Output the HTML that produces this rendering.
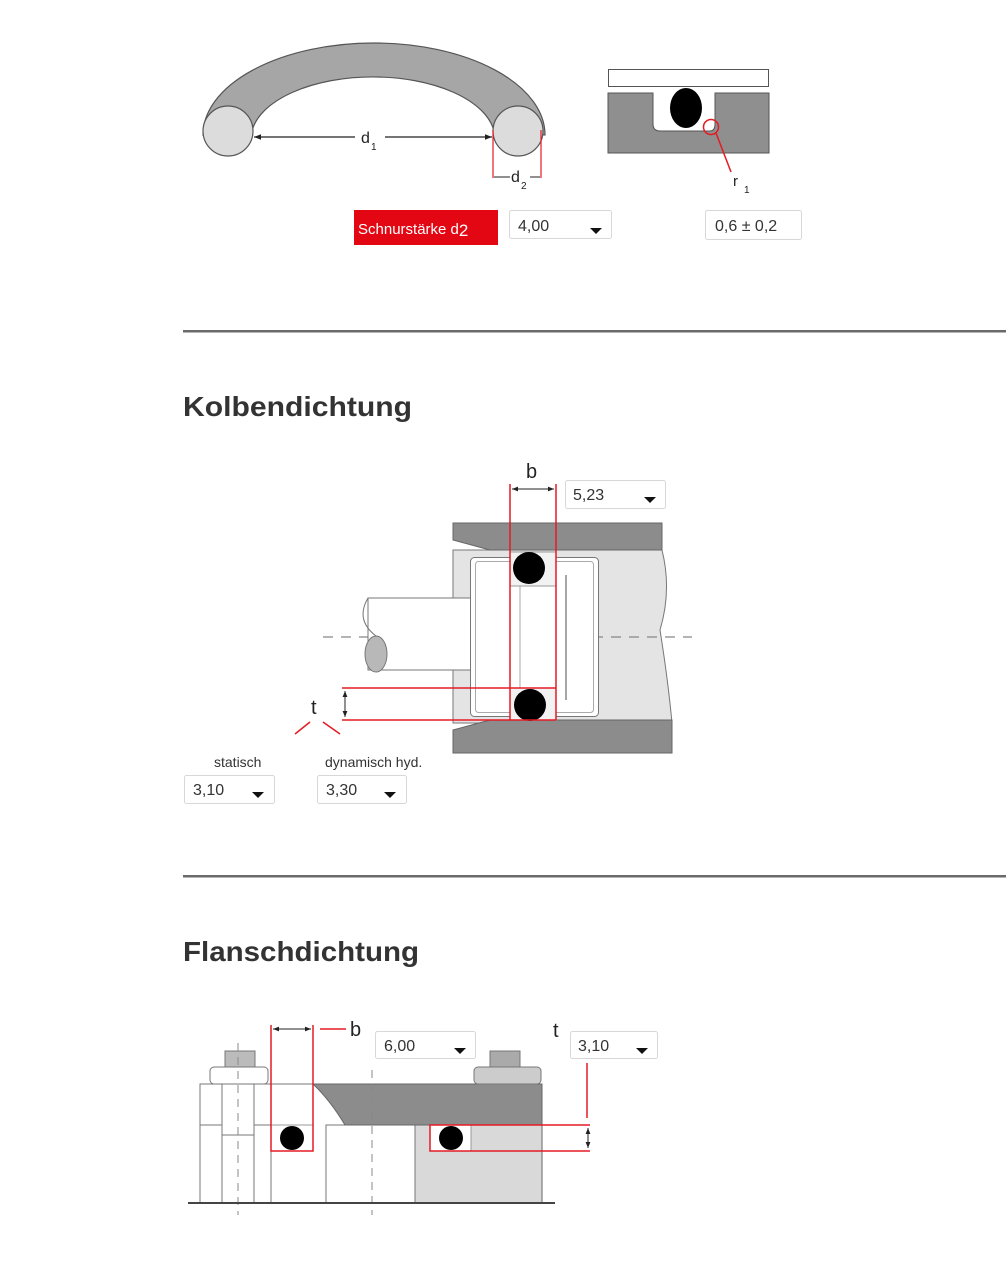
<!DOCTYPE html>
<html><head><meta charset="utf-8"><style>
html,body{margin:0;padding:0;background:#fff}
svg{display:block}
text{font-family:"Liberation Sans",sans-serif}
</style></head><body>
<svg width="1006" height="1272" viewBox="0 0 1006 1272" xmlns="http://www.w3.org/2000/svg">
<defs>
<marker id="a" viewBox="0 0 10 10" refX="10" refY="5" markerWidth="6" markerHeight="6" orient="auto-start-reverse"><path d="M0,1L10,5L0,9z" fill="#222"/></marker>
</defs>
<!-- TOP: O-ring arc -->
<path d="M203,135 A171,92 0 0 1 545,135 L494,131 A122,62 0 0 0 252,131 Z" fill="#a6a6a6" stroke="#555" stroke-width="1.2"/>
<ellipse cx="228" cy="131" rx="25" ry="25" fill="#dcdcdc" stroke="#555" stroke-width="1.2"/>
<ellipse cx="518" cy="131" rx="25" ry="25" fill="#dcdcdc" stroke="#555" stroke-width="1.2"/>
<line x1="254" y1="137" x2="355" y2="137" stroke="#222" stroke-width="1.2" marker-start="url(#a)"/>
<line x1="385" y1="137" x2="492" y2="137" stroke="#222" stroke-width="1.2" marker-end="url(#a)"/>
<text x="361" y="143" font-size="16" fill="#222">d</text><text x="371" y="150" font-size="10" fill="#222">1</text>
<line x1="493" y1="130" x2="493" y2="178" stroke="#e31b23" stroke-width="1.2"/>
<line x1="541" y1="130" x2="541" y2="178" stroke="#e31b23" stroke-width="1.2"/>
<line x1="494" y1="177" x2="510" y2="177" stroke="#222" stroke-width="1"/>
<line x1="530" y1="177" x2="540" y2="177" stroke="#222" stroke-width="1"/>
<text x="511" y="182" font-size="16" fill="#222">d</text><text x="521" y="189" font-size="10" fill="#222">2</text>
<!-- groove -->
<rect x="608.5" y="69.5" width="160" height="17" fill="#fff" stroke="#555"/>
<path d="M608,93 H653 V124 Q653,131 660,131 H710 Q715,131 715,124 V93 H769 V153 H608 Z" fill="#8f8f8f" stroke="#555"/>
<ellipse cx="686" cy="108" rx="16" ry="20" fill="#000"/>
<circle cx="711" cy="127" r="7.5" fill="none" stroke="#e31b23" stroke-width="1.5"/>
<line x1="716" y1="133" x2="731" y2="172" stroke="#e31b23" stroke-width="1.5"/>
<text x="733" y="186" font-size="15" fill="#222">r</text><text x="744" y="193" font-size="10" fill="#222">1</text>
<rect x="354" y="210" width="144" height="35" fill="#e30613"/>
<text x="358" y="234" font-size="15" fill="#fff">Schnurstärke d<tspan font-size="17" dy="2">2</tspan></text>
<rect x="509.5" y="210.5" width="102" height="28" rx="2" fill="#fff" stroke="#d8d8d8"/>
<text x="518" y="231" font-size="16" fill="#333">4,00</text><path d="M590,228 h12 l-6,6z" fill="#111"/>
<rect x="705.5" y="210.5" width="96" height="29" rx="2" fill="#fff" stroke="#d8d8d8"/>
<text x="715" y="231" font-size="16" fill="#333">0,6 ± 0,2</text>
<!-- dividers & headings -->
<rect x="183" y="330" width="823" height="2.5" fill="#6a6a6a"/>
<text x="183" y="416" font-size="28" font-weight="bold" fill="#333" textLength="229" lengthAdjust="spacingAndGlyphs">Kolbendichtung</text>
<rect x="183" y="875" width="823" height="2.5" fill="#6a6a6a"/>
<text x="183" y="961" font-size="28" font-weight="bold" fill="#333" textLength="236" lengthAdjust="spacingAndGlyphs">Flanschdichtung</text>
<!-- MIDDLE -->
<path d="M453,550 H662 Q672,590 660,630 Q668,680 672,723 H453 Z" fill="#e4e4e4" stroke="#777"/>
<path d="M453,523 H662 V550 L656,550 H490 L453,540 Z" fill="#8c8c8c" stroke="#666"/>
<path d="M453,753 H672 V720 H490 L453,730 Z" fill="#8c8c8c" stroke="#666"/>
<line x1="323" y1="637" x2="692" y2="637" stroke="#888" stroke-width="1.3" stroke-dasharray="10,8"/>
<rect x="368" y="598" width="104" height="72" fill="#fff" stroke="#777"/>
<path d="M368,598 Q355,620 376,636" fill="none" stroke="#777"/>
<ellipse cx="376" cy="654" rx="11" ry="18" fill="#b8b8b8" stroke="#777"/>
<rect x="470.5" y="557.5" width="128" height="159" rx="4" fill="#fff" stroke="#777"/>
<rect x="475.5" y="561.5" width="118" height="151" rx="3" fill="none" stroke="#aaa"/>
<line x1="566" y1="575" x2="566" y2="700" stroke="#888" stroke-width="1.5"/>
<line x1="520" y1="585" x2="520" y2="690" stroke="#aaa"/>
<rect x="510" y="552" width="46" height="34" fill="#f2f2f2" stroke="#999"/>
<rect x="510" y="688" width="46" height="32" fill="#f2f2f2" stroke="#999"/>
<circle cx="529" cy="568" r="16" fill="#000"/>
<circle cx="530" cy="705" r="16" fill="#000"/>
<line x1="510" y1="484" x2="510" y2="720" stroke="#e31b23" stroke-width="1.5"/>
<line x1="556" y1="484" x2="556" y2="720" stroke="#e31b23" stroke-width="1.5"/>
<line x1="512" y1="489" x2="554" y2="489" stroke="#222" stroke-width="1" marker-start="url(#a)" marker-end="url(#a)"/>
<text x="526" y="478" font-size="20" fill="#222">b</text>
<line x1="342" y1="688" x2="556" y2="688" stroke="#e31b23" stroke-width="1.5"/>
<line x1="342" y1="720" x2="556" y2="720" stroke="#e31b23" stroke-width="1.5"/>
<line x1="345" y1="691" x2="345" y2="717" stroke="#222" stroke-width="1" marker-start="url(#a)" marker-end="url(#a)"/>
<text x="311" y="714" font-size="20" fill="#222">t</text>
<line x1="295" y1="734" x2="310" y2="722" stroke="#e31b23" stroke-width="1.5"/>
<line x1="323" y1="722" x2="340" y2="734" stroke="#e31b23" stroke-width="1.5"/>
<rect x="565.5" y="480.5" width="100" height="28" rx="2" fill="#fff" stroke="#d8d8d8"/>
<text x="573" y="500" font-size="16" fill="#333">5,23</text><path d="M644,497 h12 l-6,6z" fill="#111"/>
<text x="214" y="767" font-size="14" fill="#333">statisch</text>
<text x="325" y="767" font-size="14" fill="#333">dynamisch hyd.</text>
<rect x="184.5" y="775.5" width="90" height="28" rx="2" fill="#fff" stroke="#d8d8d8"/>
<text x="193" y="795" font-size="16" fill="#333">3,10</text><path d="M252,792 h12 l-6,6z" fill="#111"/>
<rect x="317.5" y="775.5" width="89" height="28" rx="2" fill="#fff" stroke="#d8d8d8"/>
<text x="326" y="795" font-size="16" fill="#333">3,30</text><path d="M384,792 h12 l-6,6z" fill="#111"/>
<!-- BOTTOM -->
<rect x="415" y="1125" width="127" height="78" fill="#d9d9d9" stroke="#666"/>
<rect x="326" y="1125" width="89" height="78" fill="#fff" stroke="#777"/>
<path d="M313,1084 H542 V1125 H345 Q330,1100 313,1084 Z" fill="#8c8c8c" stroke="#666"/>
<rect x="200" y="1084" width="113" height="41" fill="#fff" stroke="#777"/>
<rect x="200" y="1125" width="71" height="78" fill="#fff" stroke="#777"/>
<rect x="222" y="1084" width="32" height="51" fill="#fff" stroke="#777"/>
<line x1="222" y1="1135" x2="222" y2="1203" stroke="#777"/><line x1="254" y1="1135" x2="254" y2="1203" stroke="#777"/>
<rect x="210" y="1067" width="58" height="17" rx="4" fill="#fff" stroke="#777"/>
<rect x="225" y="1051" width="30" height="16" fill="#bbb" stroke="#777"/>
<rect x="474" y="1067" width="67" height="17" rx="4" fill="#ccc" stroke="#777"/>
<rect x="490" y="1051" width="30" height="16" fill="#aaa" stroke="#777"/>
<line x1="238" y1="1043" x2="238" y2="1215" stroke="#888" stroke-dasharray="8,6"/>
<line x1="372" y1="1070" x2="372" y2="1215" stroke="#888" stroke-dasharray="8,6"/>
<line x1="188" y1="1203" x2="555" y2="1203" stroke="#444" stroke-width="2"/>
<rect x="271" y="1125" width="42" height="26" fill="#fff" stroke="#999"/>
<rect x="430" y="1125" width="41" height="26" fill="#fff" stroke="#999"/>
<circle cx="292" cy="1138" r="12" fill="#000"/>
<circle cx="451" cy="1138" r="12" fill="#000"/>
<path d="M271,1025 V1151 H313 V1025" fill="none" stroke="#e31b23" stroke-width="1.5"/>
<line x1="273" y1="1029" x2="311" y2="1029" stroke="#222" stroke-width="1" marker-start="url(#a)" marker-end="url(#a)"/>
<line x1="320" y1="1029" x2="346" y2="1029" stroke="#e31b23" stroke-width="1.5"/>
<text x="350" y="1036" font-size="20" fill="#222">b</text>
<path d="M590,1125 H430 V1151 H590" fill="none" stroke="#e31b23" stroke-width="1.5"/>
<line x1="587" y1="1063" x2="587" y2="1118" stroke="#e31b23" stroke-width="1.5"/>
<line x1="588" y1="1128" x2="588" y2="1148" stroke="#222" stroke-width="1" marker-start="url(#a)" marker-end="url(#a)"/>
<text x="553" y="1037" font-size="20" fill="#222">t</text>
<rect x="375.5" y="1031.5" width="100" height="27" rx="2" fill="#fff" stroke="#d8d8d8"/>
<text x="384" y="1051" font-size="16" fill="#333">6,00</text><path d="M454,1048 h12 l-6,6z" fill="#111"/>
<rect x="570.5" y="1031.5" width="87" height="27" rx="2" fill="#fff" stroke="#d8d8d8"/>
<text x="578" y="1051" font-size="16" fill="#333">3,10</text><path d="M636,1048 h12 l-6,6z" fill="#111"/>
</svg>
</body></html>
